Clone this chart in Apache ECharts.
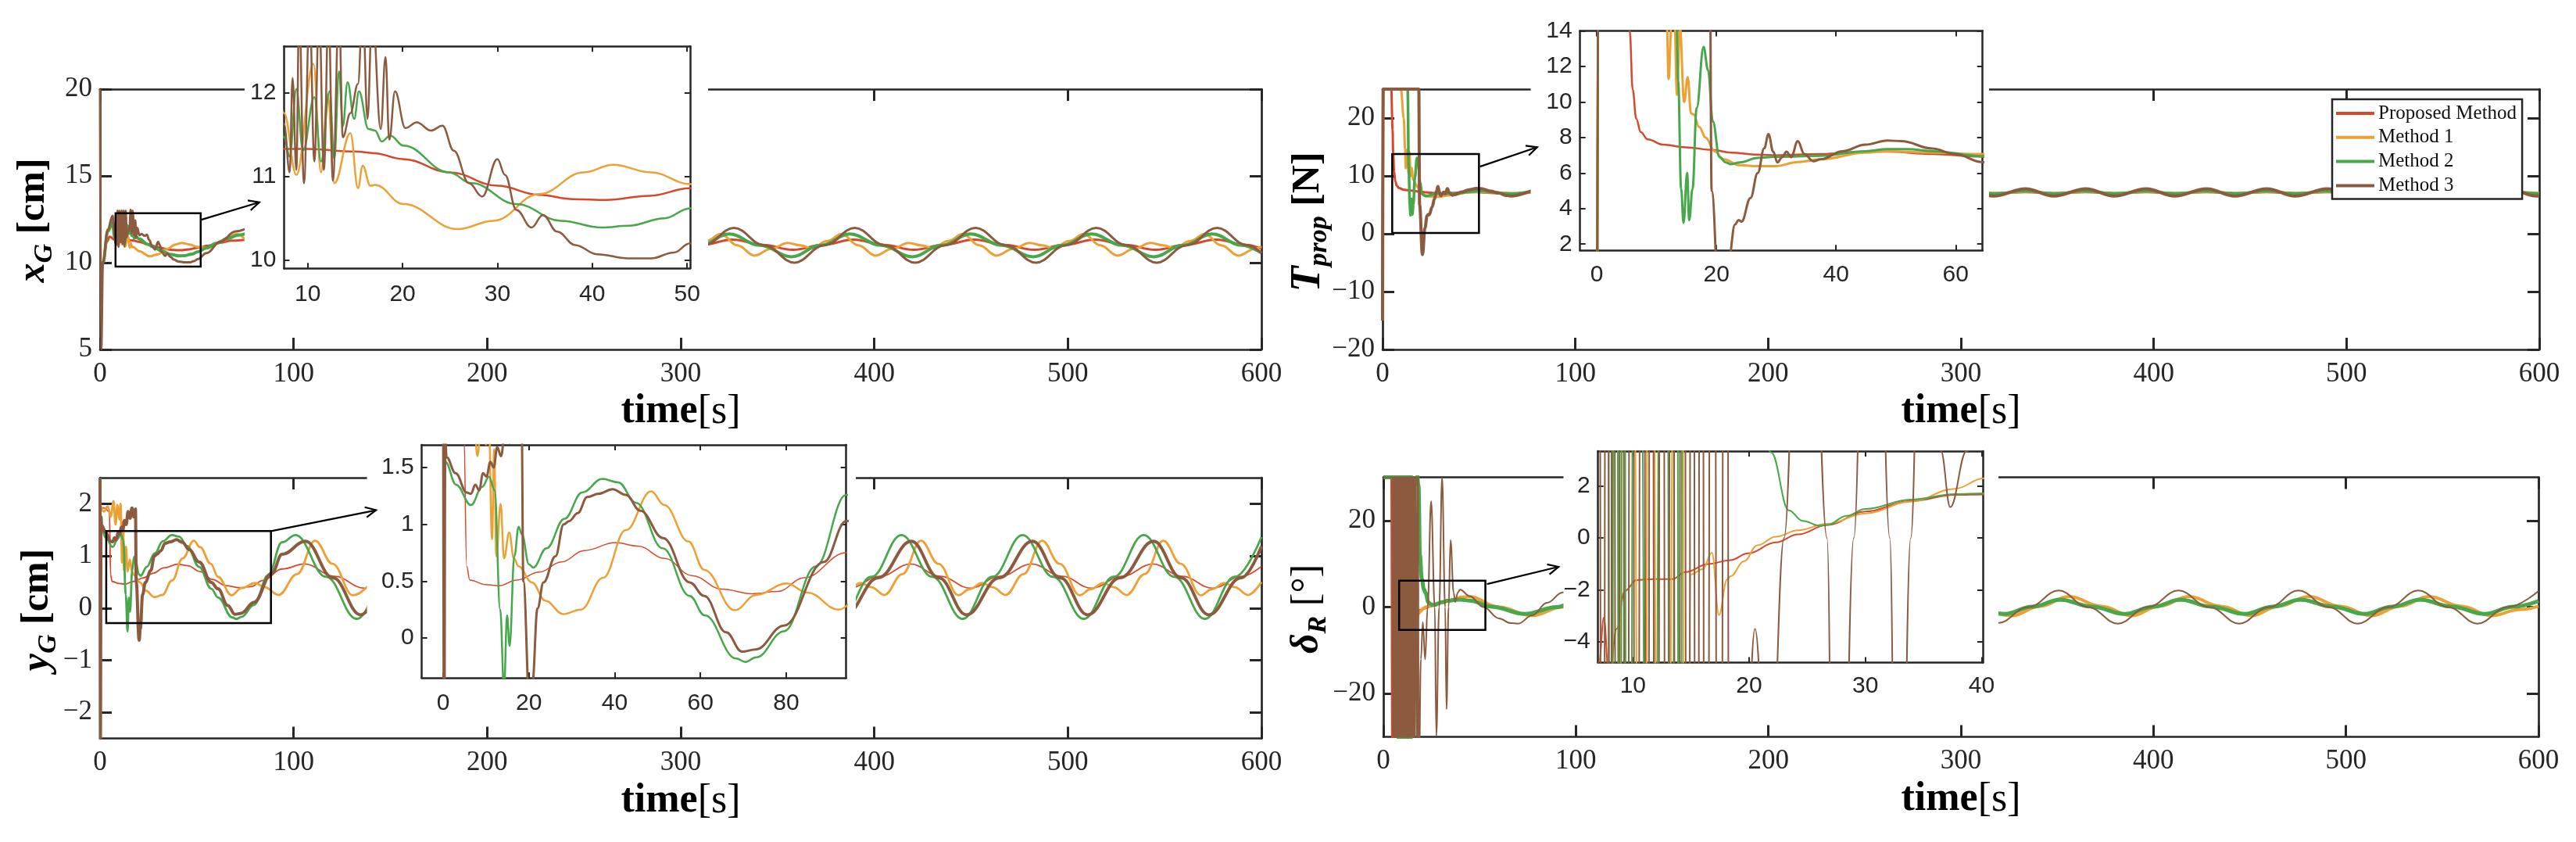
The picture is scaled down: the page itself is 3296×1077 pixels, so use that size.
<!DOCTYPE html>
<html><head><meta charset="utf-8">
<script src="https://cdn.jsdelivr.net/npm/echarts@6/dist/echarts.min.js"></script>
<style>html,body{margin:0;padding:0;background:#fff;}#c{width:3296px;height:1077px;}</style>
</head><body><div id="c"></div>
<script>
// ---------- DATA ----------
const seriesNames = ['Proposed Method','Method 1','Method 2','Method 3'];
const mainTimeTicks = [0,100,200,300,400,500,600];
const xG_ticks = [5,10,15,20];
const T_ticks = [-20,-10,0,10,20];
const yG_ticks = [-2,-1,0,1,2];
const dR_ticks = [-20,0,20];
const xGzoom_xticks = [10,20,30,40,50], xGzoom_yticks = [10,11,12];
const Tzoom_xticks = [0,20,40,60], Tzoom_yticks = [2,4,6,8,10,12,14];
const yGzoom_xticks = [0,20,40,60,80], yGzoom_yticks = [0,0.5,1,1.5];
const dRzoom_xticks = [10,20,30,40], dRzoom_yticks = [-4,-2,0,2];

const xG_proposed = [[0,10],[1.5,10],[3.5,11.2],[5,11.5],[7.5,11.33],[10,11.33],[15,11.3],[17,11.28],[20,11.21],[25,11.05],[30,10.89],[34.4,10.78],[38,10.73],[41.5,10.72],[46,10.77],[50.3,10.86],[56,10.98],[62,11.15],[68,11.27],[77.2,11.33],[92.8,11.03],[108.4,10.74],[139.6,11.33],[170.8,10.74],[202,11.33],[233.2,10.74],[264.4,11.33],[295.6,10.74],[311.2,11.03],[326.8,11.33],[342.4,11.03],[358,10.74],[373.6,11.03],[389.2,11.33],[404.8,11.03],[420.4,10.74],[436,11.03],[451.6,11.33],[467.2,11.03],[482.8,10.74],[498.4,11.03],[514,11.33],[529.6,11.03],[545.2,10.74],[560.8,11.03],[576.4,11.33],[592,11.03],[600,10.8]];
const xG_m1 = [[0,10],[1.5,10],[4,11.9],[6.3,12.6],[7.5,11.76],[8.8,11.02],[10.6,12.35],[11.4,11.05],[12.1,11.98],[12.8,10.92],[14.5,11.52],[15.3,10.86],[15.8,11.13],[16.6,10.89],[17.1,10.9],[20.1,10.67],[25.8,10.37],[29.6,10.47],[34.4,10.79],[39.1,11.05],[42.2,11.14],[46.2,11.05],[50.3,10.91],[55.2,10.84],[63,11.25],[70.7,11.65],[79.2,11.0],[88.2,10.41],[96.7,10.8],[105.2,11.14],[117.7,10.84],[133.2,11.65],[150.7,10.41],[167.7,11.14],[179.7,10.84],[195.7,11.65],[213.2,10.41],[230.2,11.14],[242.7,10.84],[258.2,11.65],[275.7,10.41],[292.7,11.14],[305.2,10.84],[313.2,11.25],[320.7,11.65],[329.2,11.0],[338.2,10.41],[346.7,10.8],[355.2,11.14],[361.7,11.0],[367.7,10.84],[375.7,11.25],[383.2,11.65],[391.7,11.0],[400.7,10.41],[409.2,10.8],[417.7,11.14],[424.2,11.0],[430.2,10.84],[438.2,11.25],[445.7,11.65],[454.2,11.0],[463.2,10.41],[471.7,10.8],[480.2,11.14],[486.7,11.0],[492.7,10.84],[500.7,11.25],[508.2,11.65],[516.7,11.0],[525.7,10.41],[534.2,10.8],[542.7,11.14],[549.2,11.0],[555.2,10.84],[563.2,11.25],[570.7,11.65],[579.2,11.0],[588.2,10.41],[596.7,10.8],[600,10.95]];
const xG_m2 = [[0,10],[1.5,10],[4,11.8],[6.5,12.3],[7.5,11.47],[8.1,11.24],[8.8,12.05],[9.5,11.31],[10.7,11.95],[11.4,11.18],[12.3,12.02],[12.8,11.21],[13.3,12.26],[13.7,11.6],[14.2,12.13],[14.9,11.69],[15.4,12.02],[16.4,11.57],[17.1,11.55],[17.8,11.42],[18.7,11.49],[20.1,11.37],[24.9,11.05],[27.3,10.92],[32,10.67],[36.7,10.47],[41,10.39],[43.8,10.41],[47.6,10.5],[50.3,10.62],[55,10.85],[60,11.12],[66,11.4],[71,11.58],[75.4,11.65],[91,11.0],[106.8,10.34],[137.8,11.65],[169.6,10.34],[200.2,11.65],[232.4,10.34],[262.6,11.65],[294.8,10.34],[310,11.0],[325,11.65],[341,11.0],[357.2,10.34],[372.3,11.0],[387.4,11.65],[403.5,11.0],[419.6,10.34],[434.7,11.0],[449.8,11.65],[466,11.0],[482,10.34],[497,11.0],[512.2,11.65],[528.3,11.0],[544.4,10.34],[559.5,11.0],[574.6,11.65],[590,11.0],[600,10.56]];
const xG_m3 = [[0,20],[0.6,5.0],[1.5,10],[4,11.9],[6.5,12.7],[7.5,11.63],[8.1,11.05],[8.4,12.18],[8.8,11.08],[9.1,13.0],[9.6,10.92],[10.2,13.0],[10.7,11.18],[11.2,13.0],[11.7,11.08],[12.2,13.0],[12.65,10.95],[13.3,13.0],[13.7,11.47],[14.5,11.76],[15.3,12.11],[15.8,13.05],[16.3,11.69],[16.8,13.0],[17.7,11.57],[18.2,12.43],[18.6,11.44],[19.2,12.02],[20.3,11.58],[21.5,11.65],[23,11.55],[24.2,11.61],[25.4,11.31],[27,10.92],[28.4,10.76],[30,11.21],[30.8,11.02],[32,10.6],[33.6,10.39],[34.8,10.54],[36.3,10.34],[38.2,10.18],[40.5,10.07],[43.8,10.02],[46.2,10.02],[48.6,10.09],[50.3,10.2],[55,10.55],[62,11.2],[70,11.8],[77.9,12.0],[93.5,11.0],[109.1,10.0],[140.3,12.0],[171.5,10.0],[202.7,12.0],[233.9,10.0],[265.1,12.0],[296.3,10.0],[311.9,11.0],[327.5,12.0],[343.1,11.0],[358.7,10.0],[374.3,11.0],[389.9,12.0],[405.5,11.0],[421.1,10.0],[436.7,11.0],[452.3,12.0],[467.9,11.0],[483.5,10.0],[499.1,11.0],[514.7,12.0],[530.3,11.0],[545.9,10.0],[561.5,11.0],[577.1,12.0],[592.7,11.0],[600,10.56]];

const T_proposed = [[0,-15],[0.3,25],[4.5,25],[5.2,18],[5.5,14],[6,10.7],[6.6,9.05],[7.35,8.3],[8.5,7.9],[11.1,7.6],[14.9,7.45],[19.4,7.3],[22.4,7.15],[26.9,7.04],[29.9,7.0],[37.4,7.07],[44.9,7.2],[48.6,7.2],[56.1,7.07],[64.4,6.92],[70,6.95],[80,7.15],[150,7.1],[250,7.1],[302.2,7.2],[317.9,6.98],[333.5,7.2],[349.2,6.98],[364.8,7.2],[380.5,6.98],[396.1,7.2],[411.8,6.98],[427.4,7.2],[443.1,6.98],[458.7,7.2],[474.4,6.98],[490,7.2],[505.7,6.98],[521.3,7.2],[537,6.98],[552.6,7.2],[568.3,6.98],[583.9,7.2],[600,6.98]];
const T_m1 = [[0,-15],[0.3,25],[9.5,25],[11,20],[11.7,14.5],[12,11.3],[12.5,14.5],[13,14.5],[13.4,10.4],[13.9,14.2],[14.6,10.0],[15.2,11.4],[15.75,9.36],[16.2,9.3],[17.1,8.6],[18.2,8.0],[19.7,7.23],[21.2,6.77],[23.9,6.44],[26.9,6.39],[29.9,6.39],[33.6,6.62],[37.4,6.77],[44.9,7.15],[48.6,7.23],[56.1,7.15],[64.4,7.07],[70,7.0],[80,7.2],[150,7.1],[250,7.1],[303.7,7.25],[319.4,7.0],[335,7.25],[350.7,7.0],[366.3,7.25],[382,7.0],[397.6,7.25],[413.3,7.0],[428.9,7.25],[444.6,7.0],[460.2,7.25],[475.9,7.0],[491.5,7.25],[507.2,7.0],[522.8,7.25],[538.5,7.0],[554.1,7.25],[569.8,7.0],[585.4,7.25],[600,7.02]];
const T_m2 = [[0,-15],[0.3,25],[13,25],[13.6,11.2],[14.1,5.1],[14.5,3.2],[15.1,6.0],[15.45,3.35],[16,5.1],[16.7,9.66],[17.85,13.1],[18.6,11.8],[19.4,8.9],[20.5,6.9],[21.6,6.6],[22.4,6.5],[23.9,6.6],[26.9,6.85],[29.9,6.92],[37.4,6.97],[44.9,7.23],[48.6,7.35],[52,7.35],[56.1,7.23],[64.4,6.95],[67,6.93],[80,7.3],[150,7.1],[250,7.1],[302.2,7.35],[316.9,6.95],[333.5,7.35],[348.2,6.95],[364.8,7.35],[379.5,6.95],[396.1,7.35],[410.8,6.95],[427.4,7.35],[442.1,6.95],[458.7,7.35],[473.4,6.95],[490,7.35],[504.7,6.95],[521.3,7.35],[536,6.95],[552.6,7.35],[567.3,6.95],[583.9,7.35],[598.6,6.95],[600,6.95]];
const T_m3 = [[0,-15],[0.3,25],[18.8,25],[19.2,5],[20.7,-3.6],[22,1.0],[23.1,3.1],[23.7,3.35],[24.2,3.27],[25.7,4.6],[26.9,6.0],[28,7.4],[28.7,8.19],[29.5,7.2],[30.2,6.6],[31,6.9],[31.7,7.2],[32.5,6.9],[33.6,7.8],[34.7,7.07],[36.2,6.67],[37.4,6.77],[41.1,7.23],[44.9,7.6],[48.6,7.83],[50.9,7.8],[56.1,7.38],[59.9,7.07],[64.4,6.62],[66.5,6.52],[83.1,7.78],[97.8,6.52],[150,7.1],[250,7.1],[285.6,6.52],[302.2,7.78],[316.9,6.52],[333.5,7.78],[348.2,6.52],[364.8,7.78],[379.5,6.52],[396.1,7.78],[410.8,6.52],[427.4,7.78],[442.1,6.52],[458.7,7.78],[473.4,6.52],[490,7.78],[504.7,6.52],[521.3,7.78],[536,6.52],[552.6,7.78],[567.3,6.52],[583.9,7.78],[598.6,6.52],[600,6.53]];

const yG_proposed = [[0,1.9],[2,1.92],[4.8,1.85],[5.5,0.63],[6.2,0.51],[9.9,0.47],[13,0.46],[17.2,0.51],[22.4,0.58],[27.6,0.67],[32.9,0.77],[40.2,0.84],[45.4,0.81],[51.7,0.70],[58,0.55],[65,0.43],[72,0.39],[78,0.41],[84.2,0.53],[94,0.75],[105.7,0.845],[121,0.61],[136.6,0.38],[152,0.61],[168.3,0.845],[199.2,0.38],[230.9,0.845],[261.8,0.38],[293.5,0.845],[324.4,0.38],[340,0.61],[356.1,0.845],[371,0.61],[387,0.38],[403,0.61],[418.7,0.845],[434,0.61],[449.6,0.38],[465,0.61],[481.3,0.845],[497,0.61],[512.2,0.38],[528,0.61],[543.9,0.845],[559,0.61],[574.8,0.38],[590,0.61],[600,0.8]];
const yG_m1 = [[0,2.0],[2,1.85],[4,1.95],[5.5,1.75],[7,2.05],[8,1.6],[9,1.98],[10,1.7],[10.6,2.0],[11.4,0.87],[11.9,1.66],[12.4,0.72],[13.4,1.18],[14.2,0.70],[15.4,0.93],[16.5,0.70],[17.6,0.63],[20.7,0.49],[23.8,0.33],[28,0.21],[32.1,0.25],[37.3,0.53],[42.6,0.95],[48.5,1.29],[51.6,1.17],[57.2,0.85],[60.9,0.6],[68,0.245],[73,0.38],[80.1,0.48],[85,0.4],[92.2,0.25],[101.8,0.65],[111.1,1.29],[120.1,0.85],[130.6,0.245],[142.7,0.48],[154.8,0.25],[173.7,1.29],[193.2,0.245],[205.3,0.48],[217.4,0.25],[236.3,1.29],[255.8,0.245],[267.9,0.48],[280,0.25],[298.9,1.29],[307.9,0.85],[318.4,0.245],[323.9,0.36],[330.5,0.48],[335.9,0.4],[342.6,0.25],[351.9,0.65],[361.5,1.29],[370.5,0.85],[381,0.245],[386.5,0.36],[393.1,0.48],[398.5,0.4],[405.2,0.25],[414.5,0.65],[424.1,1.29],[433.1,0.85],[443.6,0.245],[449.1,0.36],[455.7,0.48],[461.1,0.4],[467.8,0.25],[477.1,0.65],[486.7,1.29],[495.7,0.85],[506.2,0.245],[511.7,0.36],[518.3,0.48],[523.7,0.4],[530.4,0.25],[539.7,0.65],[549.3,1.29],[558.3,0.85],[568.8,0.245],[574.3,0.36],[580.9,0.48],[586.3,0.4],[593,0.25],[600,0.5]];
const yG_m2 = [[0,1.5],[0.5,1.55],[3,1.35],[6.5,1.17],[9.1,1.33],[10.7,1.42],[12,1.3],[13.3,0.25],[14.2,-0.45],[14.9,0.2],[15.5,-0.07],[16.6,0.72],[17.6,0.98],[18.4,0.91],[20,0.65],[21,0.62],[24.1,0.79],[28.3,1.05],[32.4,1.28],[37.1,1.40],[40.8,1.37],[45,1.19],[51.2,0.79],[57.5,0.37],[61,0.2],[68.3,-0.18],[70.5,-0.21],[73,-0.17],[79.5,0.06],[86.9,0.63],[94,1.26],[101,1.40],[116.8,0.6],[132.6,-0.21],[148,0.6],[163.6,1.40],[195.2,-0.21],[226.2,1.40],[257.8,-0.21],[288.8,1.40],[320.4,-0.21],[336,0.6],[351.4,1.40],[367,0.6],[383,-0.21],[398.5,0.6],[414,1.40],[430,0.6],[445.6,-0.21],[461,0.6],[476.6,1.40],[492.4,0.6],[508.2,-0.21],[523.7,0.6],[539.2,1.40],[555,0.6],[570.8,-0.21],[586.3,0.6],[600,1.36]];
const yG_m3 = [[0,2.5],[0.2,-2.5],[0.5,1.75],[0.8,1.59],[2.9,1.45],[5.5,1.28],[6.5,1.27],[7.5,1.35],[8.4,1.3],[9.3,1.45],[10.1,1.42],[11,1.55],[11.8,1.5],[12.6,1.68],[13.5,1.6],[14.5,1.85],[15.5,1.72],[16.5,1.92],[17.5,1.75],[18.3,1.9],[18.7,0.5],[20.2,-0.62],[20.8,-0.4],[22,0.26],[23.4,0.49],[26.2,0.72],[28.1,1.0],[29.4,1.03],[31.4,1.1],[33.6,1.24],[36.3,1.27],[39.5,1.31],[42.6,1.26],[46,1.12],[51.3,0.88],[57.5,0.49],[60.9,0.37],[66,0.05],[69.7,-0.12],[72.9,-0.10],[79.5,0.11],[88.8,0.67],[94,1.03],[106.1,1.28],[120.3,0.58],[134.6,-0.13],[149,0.58],[168.7,1.28],[197.2,-0.13],[231.3,1.28],[259.8,-0.13],[293.9,1.28],[322.4,-0.13],[339,0.58],[356.5,1.28],[370.7,0.58],[385,-0.13],[402,0.58],[419.1,1.28],[433.3,0.58],[447.6,-0.13],[464.6,0.58],[481.7,1.28],[496,0.58],[510.2,-0.13],[527,0.58],[544.3,1.28],[558.5,0.58],[572.8,-0.13],[589.5,0.58],[600,1.18]];

const dR_proposed = [[0,30],[4.2,30],[4.7,-35],[6.5,-8],[7.1,-4.72],[7.5,-3.07],[7.95,-5.5],[8.6,-3.5],[9.3,-2.04],[10.3,-1.62],[11.8,-1.58],[13.4,-1.58],[14.5,-1.31],[16.5,-1.0],[18.4,-0.85],[19.9,-0.59],[22.3,-0.17],[24.2,0.14],[26.7,0.5],[30,1.02],[33.9,1.43],[37.7,1.66],[40.2,1.68],[45,1.5],[56,0],[73.6,-1.55],[90,0],[102.3,1.6],[135.8,-1.55],[164.6,1.6],[198.1,-1.55],[226.9,1.6],[260.4,-1.55],[289.2,1.6],[322.8,-1.55],[337,0],[351.5,1.6],[368,0],[385.1,-1.55],[400,0],[414,1.6],[430,0],[447.4,-1.55],[462,0],[476.3,1.6],[493,0],[509.7,-1.55],[524,0],[538.5,1.6],[555,0],[572,-1.55],[587,0],[600,1.4]];
const dR_m1 = [[0,30],[8.0,30],[8.5,-40],[9.5,40],[11.0,-40],[11.4,40],[12.4,-40],[14.25,40],[14.4,-40],[15.0,-1.4],[16.0,-1.2],[16.8,-0.57],[17.4,-2.97],[18.1,-1.6],[18.4,-1.47],[19.55,-0.9],[20.7,-0.28],[22.3,0.05],[24.2,0.3],[26.7,0.55],[30,0.95],[33.9,1.4],[37.7,1.9],[40.2,2.3],[44.7,2.44],[60,0],[77.3,-2.0],[93,0],[107,2.44],[139,-2.0],[169.3,2.44],[201.8,-2.0],[231.6,2.44],[264,-2.0],[293.9,2.44],[326.5,-2.0],[341,0.2],[356.2,2.44],[373,0.2],[388.7,-2.0],[403,0.2],[418.5,2.44],[435,0.2],[451,-2.0],[465,0.2],[480.8,2.44],[497,0.2],[513.3,-2.0],[528,0.2],[543.1,2.44],[560,0.2],[575.6,-2.0],[590,-0.6],[600,0.2]];
const dR_m2 = [[0,30],[7.8,30],[8.07,-40],[8.5,40],[8.92,-40],[9.1,40],[9.6,-40],[10.27,40],[11.5,-40],[12.8,40],[13.3,-40],[13.75,40],[14.0,-40],[14.4,40],[16,45],[18.3,28],[19,12],[20,6.5],[21,4.2],[21.9,3.3],[23.4,1.07],[24.6,0.66],[26.1,0.47],[26.7,0.5],[28.4,0.86],[30,1.12],[33.9,1.48],[37.7,1.69],[40.2,1.72],[45,1.5],[56,0.1],[73.6,-1.6],[90,0],[102.3,1.72],[135.8,-1.6],[164.6,1.72],[198.1,-1.6],[226.9,1.72],[260.4,-1.6],[289.2,1.72],[322.8,-1.6],[337,0.1],[351.5,1.72],[368,0.1],[385.1,-1.6],[400,0.1],[414,1.72],[430,0.1],[447.4,-1.6],[462,0.1],[476.3,1.72],[493,0.1],[509.7,-1.6],[524,0.1],[538.5,1.72],[555,0.1],[572,-1.6],[587,0.1],[600,1.4]];
const dR_m3 = [[0,30],[4.8,30],[5.0,-45],[5.4,45],[5.8,-45],[6.2,45],[6.6,-45],[7.0,45],[7.4,-45],[7.76,45],[8.07,-45],[8.26,45],[8.65,-45],[9.03,45],[9.42,-45],[9.89,45],[10.27,-45],[10.85,45],[11.24,-45],[11.55,45],[12.01,-45],[12.51,45],[12.9,-45],[13.36,45],[13.75,-45],[14.33,45],[14.72,-45],[15.1,45],[15.49,-45],[15.88,45],[16.27,-45],[16.85,45],[17.43,-45],[18.0,45],[18.39,-45],[19.5,-12],[20.5,-3.5],[21.7,-12.1],[23.0,0],[24.8,24.5],[26.7,0],[27.5,-29.8],[29.0,0],[30.5,30],[32.1,0],[32.8,-23.6],[33.9,0],[34.9,15.5],[36.5,3.35],[37.3,1.19],[38.7,3.35],[39.8,4.0],[45,2.5],[52,0],[60,-2.6],[66,-3.7],[70,-3.83],[77.4,-1.9],[85,1.0],[93.2,3.4],[101.6,3.83],[132.4,-3.83],[163.9,3.83],[194.8,-3.83],[226.2,3.83],[257,-3.83],[288.5,3.83],[319.2,-3.7],[335,0],[350.8,3.83],[366,0],[381.5,-3.83],[397,0],[413,3.83],[429,0],[444.5,-3.83],[460,0],[475.3,3.83],[491,0],[506,-3.83],[522,0],[537.6,3.83],[553,0],[568.3,-3.83],[584,0],[600,3.7]];

// ---------- LAYOUT / STYLE ----------
const COLORS = ['#d9472b','#eda034','#46a84a','#8c5a3e'];
const AX = '#262626';
const fmt = v => String(v).replace('-', '\u2212');

const panels = [
  {grid:{left:128,top:114,width:1486,height:333}, xr:[0,600], yr:[5,20], xt:mainTimeTicks, yt:xG_ticks, data:[xG_proposed,xG_m1,xG_m2,xG_m3], lw:[3,3,4,3], main:true},
  {grid:{left:1769,top:114,width:1480,height:333}, xr:[0,600], yr:[-20,25], xt:mainTimeTicks, yt:T_ticks, data:[T_proposed,T_m1,T_m2,T_m3], lw:[3,3,3.5,4], main:true},
  {grid:{left:128,top:611,width:1486,height:333.5}, xr:[0,600], yr:[-2.5,2.5], xt:mainTimeTicks, yt:yG_ticks, data:[yG_proposed,yG_m1,yG_m2,yG_m3], lw:[1.8,2.8,2.8,4], main:true},
  {grid:{left:1770,top:610.5,width:1478,height:332}, xr:[0,600], yr:[-30,30], xt:mainTimeTicks, yt:dR_ticks, data:[dR_proposed,dR_m1,dR_m2,dR_m3], lw:[3,4,5,2], main:true},
  {grid:{left:363.4,top:59.2,width:519.4,height:284.1}, xr:[7.5,50.3], yr:[9.9,12.56], xt:xGzoom_xticks, yt:xGzoom_yticks, data:[xG_proposed,xG_m1,xG_m2,xG_m3], lw:[2.5,2.5,2.5,2.5], main:false, xm:18},
  {grid:{left:2021.7,top:39.6,width:515,height:280.6}, xr:[-2.8,64.5], yr:[1.65,14], xt:Tzoom_xticks, yt:Tzoom_yticks, data:[T_proposed,T_m1,T_m2,T_m3], lw:[2.5,3,3,3], main:false, xm:17},
  {grid:{left:539.6,top:569,width:543.1,height:298}, xr:[-5,94], yr:[-0.35,1.7], xt:yGzoom_xticks, yt:yGzoom_yticks, data:[yG_proposed,yG_m1,yG_m2,yG_m3], lw:[1.5,2.5,2.5,3], main:false, xm:18},
  {grid:{left:2044.7,top:577,width:492.3,height:270.5}, xr:[7,40.1], yr:[-4.8,3.35], xt:dRzoom_xticks, yt:dRzoom_yticks, data:[dR_proposed,dR_m1,dR_m2,dR_m3], lw:[2,2,2,2], main:false, xm:15}
];

function axisPair(kind, gi, min, max, ticks, st) {
  const pos = kind === 'x' ? ['bottom','top'] : ['left','right'];
  return pos.map((p, k) => ({
    type:'value', gridIndex:gi, position:p, min:min, max:max, z:st.z,
    axisLine:{show:true, onZero:false, lineStyle:{color:AX, width:st.lw}},
    axisTick:{show:true, inside:true, length:st.tl, customValues:ticks.slice(), lineStyle:{color:AX, width:st.tw}},
    axisLabel: k === 0 ? {show:true, customValues:ticks.slice(), formatter:fmt, margin:(kind==='x'?st.xm:st.ym), color:AX, fontFamily:st.ff, fontSize:st.fs, hideOverlap:false} : {show:false},
    splitLine:{show:false}, splitArea:{show:false}, minorTick:{show:false}
  }));
}

const grids = [], xAxes = [], yAxes = [], series = [];
panels.forEach((p, gi) => {
  grids.push(Object.assign({outerBoundsMode:'none', containLabel:false}, p.grid));
  const st = p.main
    ? {z:0, lw:2.7, tl:15, tw:3, xm:14, ym:10, ff:'Liberation Serif', fs:35}
    : {z:6, lw:2.5, tl:7, tw:2, xm:p.xm, ym:10, ff:'Liberation Sans', fs:30};
  xAxes.push(...axisPair('x', gi, p.xr[0], p.xr[1], p.xt, st));
  yAxes.push(...axisPair('y', gi, p.yr[0], p.yr[1], p.yt, st));
  p.data.forEach((d, si) => {
    series.push({
      type:'line', name:seriesNames[si], xAxisIndex:gi*2, yAxisIndex:gi*2, data:d,
      symbol:'none', showSymbol:false, smooth:0.4, smoothMonotone:'x', clip:true, silent:true,
      lineStyle:{color:COLORS[si], width:p.lw[si]}, itemStyle:{color:COLORS[si]},
      z: p.main ? 2 : 7, animation:false
    });
  });
});

const SERIF = 'Liberation Serif';
function ylabel(id, x, y, txt, rich) {
  return {type:'text', id:id, x:x, y:y, rotation:Math.PI/2, z:10,
    style:{text:txt, rich:rich, align:'center', verticalAlign:'middle', fill:'#000'}};
}
const richBase = {
  i:{fontFamily:SERIF, fontStyle:'italic', fontWeight:'bold', fontSize:50, lineHeight:62, verticalAlign:'middle', fill:'#000'},
  I:{fontFamily:SERIF, fontStyle:'italic', fontWeight:'bold', fontSize:54, lineHeight:62, verticalAlign:'middle', fill:'#000'},
  s:{fontFamily:SERIF, fontStyle:'italic', fontWeight:'bold', fontSize:34, lineHeight:34, verticalAlign:'bottom', fill:'#000'},
  b:{fontFamily:SERIF, fontWeight:'bold', fontSize:50, lineHeight:62, verticalAlign:'middle', fill:'#000'},
  r:{fontFamily:SERIF, fontWeight:'normal', fontSize:50, lineHeight:62, verticalAlign:'middle', fill:'#000'}
};
const timeRich = {
  b:{fontFamily:SERIF, fontWeight:'bold', fontSize:52, fill:'#000'},
  r:{fontFamily:SERIF, fontWeight:'normal', fontSize:52, fill:'#000'}
};
function tlabel(id, x, y) {
  return {type:'text', id:id, x:x, y:y, z:10, style:{text:'{b|time}{r|[s]}', rich:timeRich, align:'center', verticalAlign:'middle'}};
}
const whiteBoxes = [[313,0,593,405],[1958.6,0,586.4,385],[469.6,558,625.4,364],[2000.5,560,556.5,345]];
const baseGraphic = [];
whiteBoxes.forEach((w,i) => baseGraphic.push({type:'rect', id:'white'+i, z:5, silent:true,
  shape:{x:w[0], y:w[1], width:w[2], height:w[3]}, style:{fill:'#fff', stroke:null}}));
baseGraphic.push(ylabel('yl0', 43, 282, '{i|x}{s|G}{b| [cm]}', richBase));
baseGraphic.push(ylabel('yl1', 1674, 284, '{I|T}{s|prop}{b| [N]}', richBase));
baseGraphic.push(ylabel('yl2', 48, 780, '{i|y}{s|G}{b| [cm]}', richBase));
baseGraphic.push(ylabel('yl3', 1673, 779, '{i|δ}{s|R}{r| [°]}', richBase));
baseGraphic.push(tlabel('tl0', 871, 527));
baseGraphic.push(tlabel('tl1', 2509, 527));
baseGraphic.push(tlabel('tl2', 871, 1025));
baseGraphic.push(tlabel('tl3', 2509, 1023));

const option = {
  animation:false,
  backgroundColor:'#fff',
  grid:grids, xAxis:xAxes, yAxis:yAxes, series:series,
  legend:{data:seriesNames, orient:'vertical', left:2984, top:127, padding:[4,7,3,5], itemGap:2.8,
    itemWidth:49, itemHeight:4, icon:'rect', backgroundColor:'#fff', borderColor:AX, borderWidth:2.5, borderRadius:0,
    itemStyle:{borderWidth:0}, textStyle:{fontFamily:SERIF, fontSize:25, lineHeight:28, color:'#111'}, selectedMode:false, z:10},
  graphic:{elements:baseGraphic}
};

const chart = echarts.init(document.getElementById('c'), null, {renderer:'canvas', width:3296, height:1077});
chart.setOption(option);

const zoomBoxes = [
  {g:0, x:[8,52], y:[9.77,12.85]},
  {g:1, x:[5,50], y:[0.14,13.8]},
  {g:2, x:[3.2,88.3], y:[-0.29,1.476]},
  {g:3, x:[8.2,53], y:[-5.27,6.08]}
];
const zoomArrows = [
  {g:0, from:[52.2,12.47], to:[82.3,13.48]},
  {g:1, from:[50.5,11.6], to:[80.2,14.96]},
  {g:2, from:[88.3,1.476], to:[142.6,1.877]},
  {g:3, from:[53.8,5.3], to:[91,9.3]}
];
const extra = [];
zoomBoxes.forEach((b,i) => {
  const p0 = chart.convertToPixel({gridIndex:b.g}, [b.x[0], b.y[1]]);
  const p1 = chart.convertToPixel({gridIndex:b.g}, [b.x[1], b.y[0]]);
  extra.push({type:'rect', id:'zbox'+i, z:8, silent:true,
    shape:{x:p0[0], y:p0[1], width:p1[0]-p0[0], height:p1[1]-p0[1]},
    style:{fill:null, stroke:'#000', lineWidth:2.5}});
});
zoomArrows.forEach((a,i) => {
  const s = chart.convertToPixel({gridIndex:a.g}, a.from);
  const e = chart.convertToPixel({gridIndex:a.g}, a.to);
  const ang = Math.atan2(e[1]-s[1], e[0]-s[0]);
  const L = 15, w = 0.45;
  extra.push({type:'polyline', id:'ashaft'+i, z:8, silent:true, shape:{points:[s,e]}, style:{stroke:'#000', lineWidth:2.2, fill:null}});
  extra.push({type:'polyline', id:'ahead'+i, z:8, silent:true,
    shape:{points:[[e[0]-L*Math.cos(ang-w), e[1]-L*Math.sin(ang-w)], e, [e[0]-L*Math.cos(ang+w), e[1]-L*Math.sin(ang+w)]]},
    style:{stroke:'#000', lineWidth:2.2, fill:null}});
});
chart.setOption({graphic:{elements:baseGraphic.concat(extra)}});
</script>
</body></html>
